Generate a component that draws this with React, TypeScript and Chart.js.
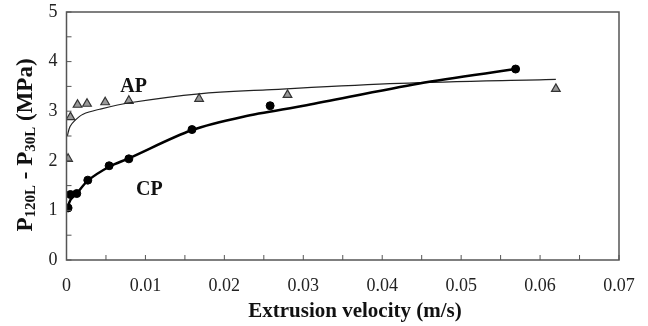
import React, { useEffect, useRef } from "react";
import { Chart, registerables } from "chart.js";

Chart.register(...registerables);

const cpX = [0.0002, 0.0005, 0.0013, 0.0027, 0.0054, 0.0079, 0.0159, 0.0258, 0.0569];
const cpY = [1.05, 1.32, 1.34, 1.61, 1.9, 2.04, 2.63, 3.11, 3.85];
const apX = [0.0002, 0.0005, 0.0014, 0.0026, 0.0049, 0.0079, 0.0168, 0.028, 0.062];
const apY = [2.04, 2.88, 3.13, 3.15, 3.18, 3.21, 3.25, 3.33, 3.45];

const cpFitX = [0.0001, 0.0005, 0.0013, 0.0027, 0.0054, 0.0079, 0.0159, 0.0224, 0.0304, 0.0447, 0.0569];
const cpFitY = [1.02, 1.21, 1.34, 1.6, 1.88, 2.05, 2.62, 2.89, 3.12, 3.56, 3.85];
const apFitX = [0.0001, 0.00045, 0.0011, 0.0021, 0.0042, 0.008, 0.0168, 0.0253, 0.0422, 0.062];
const apFitY = [2.5, 2.69, 2.82, 2.94, 3.04, 3.17, 3.35, 3.43, 3.56, 3.64];

const xTicks = [0, 0.01, 0.02, 0.03, 0.04, 0.05, 0.06, 0.07];
const yTicks = [0, 1, 2, 3, 4, 5];

const FONT = "'Liberation Serif', 'Times New Roman', serif";

const pts = (xs: number[], ys: number[]) => xs.map((x, i) => ({ x, y: ys[i] }));

const decor = {
  id: "decor",
  afterDraw(chart: any) {
    const ctx = chart.ctx;
    const xs = chart.scales.x;
    const ys = chart.scales.y;
    const L = xs.getPixelForValue(0);
    const R = xs.getPixelForValue(0.07);
    const T = ys.getPixelForValue(5);
    const B = ys.getPixelForValue(0);
    ctx.save();
    ctx.strokeStyle = "#555";
    ctx.lineWidth = 1.5;
    ctx.strokeRect(L, T, R - L, B - T);
    ctx.lineWidth = 1;
    // inner ticks
    for (let v = 0; v <= 0.0701; v += 0.005) {
      const px = xs.getPixelForValue(v);
      ctx.beginPath();
      ctx.moveTo(px, B);
      ctx.lineTo(px, B - 5);
      ctx.stroke();
    }
    for (let v = 0; v <= 5.01; v += 0.5) {
      const py = ys.getPixelForValue(v);
      ctx.beginPath();
      ctx.moveTo(L, py);
      ctx.lineTo(L + 5, py);
      ctx.stroke();
    }
    // series labels
    ctx.fillStyle = "#111";
    ctx.font = `bold 20px ${FONT}`;
    ctx.textAlign = "center";
    ctx.textBaseline = "middle";
    ctx.fillText("AP", xs.getPixelForValue(0.0085), ys.getPixelForValue(3.5));
    ctx.fillText("CP", xs.getPixelForValue(0.0105), ys.getPixelForValue(1.42));
    // x title
    ctx.font = `bold 21px ${FONT}`;
    ctx.textBaseline = "alphabetic";
    ctx.fillText("Extrusion velocity (m/s)", 355, 317);
    // y title with subscripts
    ctx.translate(24, 145);
    ctx.rotate(-Math.PI / 2);
    const parts: [string, boolean][] = [
      ["P", false], ["120L", true], [" - P", false], ["30L", true], [" (MPa)", false],
    ];
    const big = `bold 23px ${FONT}`;
    const small = `bold 15px ${FONT}`;
    let total = 0;
    for (const [t, sub] of parts) {
      ctx.font = sub ? small : big;
      total += ctx.measureText(t).width;
    }
    let cx = -total / 2;
    ctx.textAlign = "left";
    for (const [t, sub] of parts) {
      ctx.font = sub ? small : big;
      ctx.fillText(t, cx, sub ? 11 : 8);
      cx += ctx.measureText(t).width;
    }
    ctx.restore();
  },
};

export default function App() {
  const ref = useRef<HTMLCanvasElement>(null);
  useEffect(() => {
    if (!ref.current) return;
    const chart = new Chart(ref.current, {
      type: "scatter",
      data: {
        datasets: [
          {
            label: "CP fit",
            data: pts(cpFitX, cpFitY),
            showLine: true,
            borderColor: "#000",
            borderWidth: 2.5,
            pointRadius: 0,
            tension: 0.3,
          } as any,
          {
            label: "AP fit",
            data: pts(apFitX, apFitY),
            showLine: true,
            borderColor: "#222",
            borderWidth: 1.2,
            pointRadius: 0,
            tension: 0.35,
          } as any,
          {
            label: "CP",
            data: pts(cpX, cpY),
            backgroundColor: "#000",
            borderColor: "#000",
            pointRadius: 4,
            pointStyle: "circle",
          },
          {
            label: "AP",
            data: pts(apX, apY),
            backgroundColor: "#999",
            borderColor: "#333",
            borderWidth: 1.2,
            pointRadius: 5,
            pointStyle: "triangle",
          },
        ],
      },
      options: {
        animation: false,
        responsive: false,
        maintainAspectRatio: false,
        layout: { padding: { top: 12, right: 29, left: 0, bottom: 0 } },
        plugins: { legend: { display: false }, tooltip: { enabled: false } },
        scales: {
          x: {
            type: "linear",
            min: 0,
            max: 0.07,
            afterBuildTicks: (s: any) => {
              s.ticks = xTicks.map((v) => ({ value: v }));
            },
            afterFit: (s: any) => {
              s.height = 66;
            },
            grid: { display: false },
            border: { display: false },
            ticks: {
              color: "#222",
              font: { family: FONT, size: 18 },
              padding: 7,
              maxRotation: 0,
              callback: (v: any) => String(Number(v)),
            },
          },
          y: {
            type: "linear",
            min: 0,
            max: 5,
            afterBuildTicks: (s: any) => {
              s.ticks = yTicks.map((v) => ({ value: v }));
            },
            afterFit: (s: any) => {
              s.width = 66.5;
              s.paddingTop = 0;
              s.paddingBottom = 0;
            },
            grid: { display: false },
            border: { display: false },
            ticks: {
              color: "#222",
              font: { family: FONT, size: 18 },
              padding: 1,
            },
          },
        },
      },
      plugins: [decor],
    });
    return () => chart.destroy();
  }, []);
  return (
    <div style={{ position: "absolute", left: 0, top: 0, width: 648, height: 326, background: "#fff" }}>
      <canvas ref={ref} width={648} height={326} />
    </div>
  );
}
